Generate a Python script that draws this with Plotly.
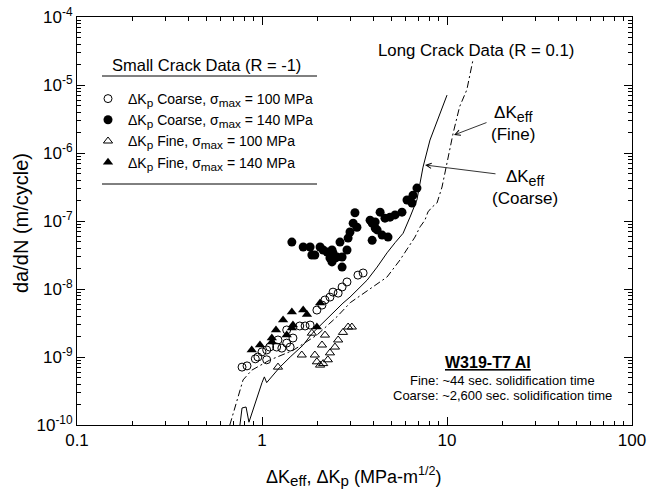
import plotly.graph_objects as go

# ---------------- data ----------------
# Long crack data (R = 0.1), dK_eff curves
fine_long_dk = [0.67, 0.79, 0.88, 1.10, 1.47, 1.98, 2.54, 3.0, 4.74, 5.57, 6.71, 7.15, 7.6, 7.89, 8.3, 8.83, 9.4, 10.1, 10.8, 11.7, 12.8, 13.8]
fine_long_dadn = [1e-10, 4.6e-10, 6.4e-10, 9e-10, 1.25e-9, 2.1e-9, 3.9e-9, 6.3e-9, 1.5e-8, 2.67e-8, 5.8e-8, 8.2e-8, 1.03e-7, 1.36e-7, 1.6e-7, 1.84e-7, 3.16e-7, 7.9e-7, 1.97e-6, 4.8e-6, 8.5e-6, 2.3e-5]

coarse_long_dk = [0.76, 0.78, 0.82, 0.85, 1.0, 1.03, 1.06, 1.25, 1.42, 1.67, 1.86, 2.11, 2.42, 2.74, 2.99, 3.70, 4.19, 4.74, 5.24, 5.79, 6.31, 6.88, 7.42, 8.09, 10.0]
coarse_long_dadn = [1e-10, 1.78e-10, 1.84e-10, 1.1e-10, 4.2e-10, 5.1e-10, 4.2e-10, 7.1e-10, 1e-9, 1.5e-9, 2.2e-9, 3.1e-9, 4.4e-9, 6.2e-9, 7.6e-9, 1.35e-8, 2.1e-8, 3.4e-8, 4.8e-8, 6.6e-8, 1.14e-7, 2.05e-7, 6.2e-7, 1.55e-6, 7.1e-6]

# Small crack data (R = -1)
coarse100_dk = [0.78, 0.83, 0.92, 0.95, 1.0, 1.06, 1.06, 1.10, 1.20, 1.28, 1.22, 1.36, 1.42, 1.47, 1.36, 1.60, 1.71, 1.82, 1.98, 2.11, 2.19, 2.33, 2.42, 2.58, 2.71, 2.88, 3.30, 3.52]
coarse100_dadn = [7.1e-10, 7.4e-10, 9.4e-10, 1.0e-9, 1.19e-9, 9.1e-10, 1.27e-9, 1.4e-9, 1.4e-9, 1.35e-9, 1.78e-9, 1.6e-9, 1.4e-9, 1.9e-9, 2.5e-9, 2.86e-9, 2.86e-9, 2.95e-9, 4.9e-9, 5.8e-9, 6.9e-9, 7.6e-9, 9.0e-9, 8.7e-9, 1.07e-8, 1.27e-8, 1.6e-8, 1.72e-8]

coarse140_dk = [1.45, 1.67, 1.82, 1.86, 1.93, 2.06, 2.14, 2.25, 2.39, 2.42, 2.33, 2.48, 2.39, 2.54, 2.71, 2.71, 2.88, 2.64, 2.92, 2.99, 3.18, 3.11, 3.26, 3.84, 3.94, 4.09, 4.09, 4.19, 3.94, 4.35, 4.46, 4.80, 4.62, 4.92, 5.24, 5.71, 6.08, 6.47, 6.55, 6.88]
coarse140_dadn = [4.9e-8, 4.15e-8, 4.15e-8, 3.16e-8, 3.16e-8, 4.15e-8, 3.75e-8, 3.5e-8, 3.75e-8, 3.4e-8, 2.86e-8, 2.86e-8, 2.5e-8, 2.95e-8, 2.95e-8, 2.1e-8, 3.75e-8, 4.9e-8, 5.6e-8, 6.9e-8, 1.32e-7, 9.3e-8, 8.1e-8, 1.03e-7, 9.3e-8, 9.7e-8, 7.9e-8, 7.4e-8, 5.2e-8, 1.35e-7, 6.2e-8, 5.8e-8, 1.1e-7, 1.14e-7, 1.23e-7, 1.35e-7, 2.04e-7, 1.84e-7, 2.4e-7, 3.05e-7]

fine100_dk = [1.22, 1.64, 1.86, 2.19, 2.11, 1.93, 1.98, 2.06, 2.14, 2.27, 2.33, 2.48, 2.58, 2.74, 2.92, 3.06]
fine100_dadn = [7.1e-10, 1.07e-9, 2.24e-9, 2.1e-9, 1.5e-9, 1.07e-9, 8.5e-10, 7.6e-10, 8.0e-10, 9.1e-10, 1.15e-9, 1.4e-9, 1.78e-9, 2.3e-9, 2.76e-9, 2.76e-9]

fine140_dk = [0.88, 0.975, 1.13, 1.13, 1.19, 1.30, 1.45, 1.47, 1.45, 1.67, 1.75, 1.98, 2.06, 1.36]
fine140_dadn = [1.27e-9, 1.5e-9, 1.66e-9, 1.9e-9, 2.5e-9, 3.5e-9, 2.67e-9, 2.95e-9, 4.6e-9, 4.9e-9, 4.2e-9, 2.76e-9, 6.2e-9, 2.1e-9]

x_tickvals = [0.1, 1, 10, 100]
x_ticktext = ["0.1", "1", "10", "100"]
y_tickvals = [1e-10, 1e-9, 1e-8, 1e-7, 1e-6, 1e-5, 1e-4]
y_ticktext = ["10<sup>-10</sup>", "10<sup>-9</sup>", "10<sup>-8</sup>", "10<sup>-7</sup>",
              "10<sup>-6</sup>", "10<sup>-5</sup>", "10<sup>-4</sup>"]
x_minor = [m * d for d in [0.1, 1, 10] for m in range(2, 10)]
y_minor = [m * d for d in [1e-10, 1e-9, 1e-8, 1e-7, 1e-6, 1e-5] for m in range(2, 10)]

FONT = "Liberation Sans, Arial, Helvetica, sans-serif"

fig = go.Figure()

fig.add_trace(go.Scatter(x=fine_long_dk, y=fine_long_dadn, mode="lines", showlegend=False,
                         line=dict(color="black", width=1, dash="7px,3px,2px,3px")))
fig.add_trace(go.Scatter(x=coarse_long_dk, y=coarse_long_dadn, mode="lines", showlegend=False,
                         line=dict(color="black", width=1)))

SUBP = "<sub><span style='font-size:120%'>p</span></sub>"
SUBMAX = "<sub><span style='font-size:120%'>max</span></sub>"
SUBEFF = "<sub><span style='font-size:120%'>eff</span></sub>"

fig.add_trace(go.Scatter(x=coarse100_dk, y=coarse100_dadn, mode="markers",
                         name="ΔK" + SUBP + " Coarse, σ" + SUBMAX + " = 100 MPa",
                         marker=dict(symbol="circle-open", size=8, color="black", line=dict(width=1))))
fig.add_trace(go.Scatter(x=coarse140_dk, y=coarse140_dadn, mode="markers",
                         name="ΔK" + SUBP + " Coarse, σ" + SUBMAX + " = 140 MPa",
                         marker=dict(symbol="circle", size=9, color="black")))
fig.add_trace(go.Scatter(x=fine100_dk, y=fine100_dadn, mode="markers",
                         name="ΔK" + SUBP + " Fine, σ" + SUBMAX + " = 100 MPa",
                         marker=dict(symbol="triangle-up-open", size=8, color="black", line=dict(width=1))))
fig.add_trace(go.Scatter(x=fine140_dk, y=fine140_dadn, mode="markers",
                         name="ΔK" + SUBP + " Fine, σ" + SUBMAX + " = 140 MPa",
                         marker=dict(symbol="triangle-up", size=9, color="black")))

axis_common = dict(type="log", showline=True, linecolor="black", linewidth=1, mirror="ticks",
                   ticks="inside", ticklen=8, tickcolor="black", showgrid=False, zeroline=False,
                   automargin=False,
                   tickfont=dict(family=FONT, size=17, color="black"))

fig.update_xaxes(**axis_common, range=[-1, 2], tickvals=x_tickvals, ticktext=x_ticktext,
                 minor=dict(tickmode="array", tickvals=x_minor, ticks="inside", ticklen=4,
                            tickcolor="black", showgrid=False))
fig.update_yaxes(**axis_common, range=[-10, -4], tickvals=y_tickvals, ticktext=y_ticktext,
                 minor=dict(tickmode="array", tickvals=y_minor, ticks="inside", ticklen=4,
                            tickcolor="black", showgrid=False))

# plot area in page pixels: x 77..632, y 17..425
def px2paper(px, py):
    return (px - 77) / 555.0, (425 - py) / 408.0

annotations = []
def add_text(text, px, py, size, xanchor="center", yanchor="middle", angle=0):
    xp, yp = px2paper(px, py)
    annotations.append(dict(text=text, x=xp, y=yp, xref="paper", yref="paper", showarrow=False,
                            xanchor=xanchor, yanchor=yanchor, textangle=angle,
                            font=dict(family=FONT, size=size, color="black")))

add_text("da/dN (m/cycle)", 21, 223, 20, angle=-90)
add_text("ΔK" + SUBEFF + ", ΔK" + SUBP + " (MPa-m<sup>1/2</sup>)", 354, 476, 18)
add_text("Small Crack Data (R = -1)", 206, 65, 16.5)
add_text("Long Crack Data (R = 0.1)", 376, 50, 16.8, xanchor="left")
add_text("ΔK" + SUBEFF + "<br>(Fine)", 513, 124, 17)
add_text("ΔK" + SUBEFF + "<br>(Coarse)", 525, 188, 17)
add_text("<b><u>W319-T7 Al</u></b>", 488, 362, 16)
add_text("Fine: ~44 sec. solidification time", 502, 380, 13)
add_text("Coarse: ~2,600 sec. solidification time", 502, 395, 13)

for hx, hy, tx, ty in [(454, 135, 488, 122), (425, 165, 497, 174)]:
    xp, yp = px2paper(hx, hy)
    annotations.append(dict(text="", x=xp, y=yp, xref="paper", yref="paper", showarrow=True,
                            ax=tx - hx, ay=ty - hy, arrowhead=5, arrowsize=1.3, arrowwidth=0.8,
                            arrowcolor="black"))

shapes = []
for py in [76, 184]:
    x0, y0 = px2paper(102, py)
    x1, _ = px2paper(317, py)
    shapes.append(dict(type="line", xref="paper", yref="paper", x0=x0, x1=x1, y0=y0, y1=y0,
                       line=dict(color="black", width=1)))

lx, ly = px2paper(88, 83)
fig.update_layout(
    width=648, height=489,
    margin=dict(l=77, r=16, t=17, b=64),
    paper_bgcolor="white", plot_bgcolor="white",
    annotations=annotations, shapes=shapes,
    legend=dict(x=lx, y=ly, xanchor="left", yanchor="top", bgcolor="rgba(0,0,0,0)",
                font=dict(family=FONT, size=14, color="black"), tracegroupgap=0,
                itemwidth=30),
    font=dict(family=FONT, color="black"),
)

fig.write_html("out.html", config={"displayModeBar": False},
               post_script="document.body.style.margin='0';document.body.style.overflow='hidden';")
